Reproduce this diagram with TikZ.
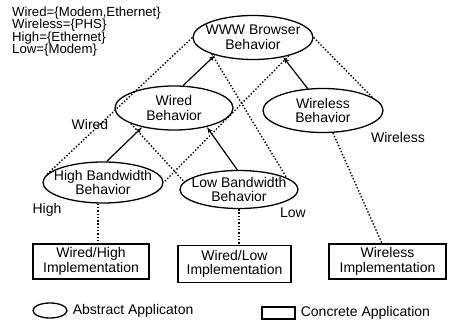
\documentclass[tikz,border=0pt]{standalone}
\usepackage{fontspec}
\setmainfont{Liberation Sans}
\usepackage{tikz}
\usetikzlibrary{arrows,shapes}
\newcommand{\tightfont}{\fontsize{13.2}{12.4}\selectfont\lineskiplimit=-\maxdimen}

\begin{document}
\begin{tikzpicture}[node distance=70pt,
font=\fontsize{14}{14.5}\selectfont,
abstract/.style={
ellipse,
draw,
line width=1.3pt,
fill=white,
align=center,
inner xsep=-8pt,
inner ysep=0pt,
minimum width=120pt,
minimum height=44pt
},
concrete/.style={
rectangle,
draw,
line width=1.3pt,
align=center,
minimum width=116pt,
minimum height=35pt
},
isa/.style={->,>=latex',line width=1.2pt},
map/.style={line width=1.4pt,dash pattern=on 1.4pt off 1.9pt},
tag/.style={inner sep=0pt}]
\useasboundingbox (-253pt,37.5pt) rectangle (198pt,-286.5pt);

\node (www) [abstract] {WWW Browser\\Behavior};
\node (wired) [abstract,below of=www,node distance=70.5pt,xshift=-79pt,minimum width=118pt] {Wired\\Behavior};
\node (wireless) [abstract,below of=www,node distance=73pt,xshift=70pt] {Wireless\\Behavior};
\node (high) [abstract,below of=wired,node distance=74.5pt,xshift=-71pt,minimum height=41pt] {High Bandwidth\\Behavior};
\node (low) [abstract,below of=wired,node distance=81.5pt,xshift=65pt,minimum width=118pt,minimum height=38pt] {Low Bandwidth\\Behavior};
\node (wiredhigh) [concrete,below of=high,node distance=79pt,xshift=-12pt] {Wired/High\\Implementation};
\node (wiredlow) [concrete,below of=low,node distance=74.5pt,xshift=-4.5pt,minimum width=113pt,minimum height=37pt] {Wired/Low\\Implementation};
\node (wirelessimpl) [concrete,below of=wireless,node distance=151pt,xshift=64.5pt,minimum width=117pt] {Wireless\\Implementation};

\node (wiredtag) [tag,left of=wired,node distance=84pt,yshift=-16pt] {Wired};
\node (wirelesstag) [tag,right of=wireless,node distance=75pt,yshift=-26.5pt] {Wireless};
\node (hightag) [tag,left of=high,node distance=56pt,yshift=-27.5pt] {High};
\node (lowtag) [tag,right of=low,node distance=54pt,yshift=-23.5pt] {Low};

\node (sets) [tag,anchor=north west,align=left,font=\tightfont] at (-241pt,31pt) {Wired=\{Modem,Ethernet\}\\Wireless=\{PHS\}\\High=\{Ethernet\}\\Low=\{Modem\}};

\draw[isa] (high.80) -- (wired.211);
\draw[isa] (low.95) -- (wired.330);
\draw[isa] (wired.68) -- (www.205);
\draw[isa] (wireless.125) -- (www.327);

\draw[map] (www.west) -- (high.173);
\draw[map] (www.202) -- (low.14);
\draw[map] (wired.200) -- (low.172);
\draw[map] (www.333) -- (high.east);
\draw[map] (www.east) -- (wireless.15);
\draw[map] ([xshift=-5pt]high.south) -- ([xshift=-5pt]high.south |- wiredhigh.north);
\draw[map] (low.south) -- (low.south |- wiredlow.north);
\draw[map] (wireless.294) -- (wirelessimpl.107);

\node (absicon) [draw,ellipse,line width=1.3pt,minimum width=34pt,minimum height=15pt,inner sep=0pt] at (-203pt,-273pt) {};
\node (abstext) [tag,anchor=west] at ([xshift=5pt]absicon.east) {Abstract Applicaton};
\node (conicon) [draw,rectangle,line width=1.3pt,minimum width=33pt,minimum height=12pt,inner sep=0pt] at (25.5pt,-275.5pt) {};
\node (context) [tag,anchor=west] at ([xshift=5pt]conicon.east) {Concrete Application};
\end{tikzpicture}
\end{document}
